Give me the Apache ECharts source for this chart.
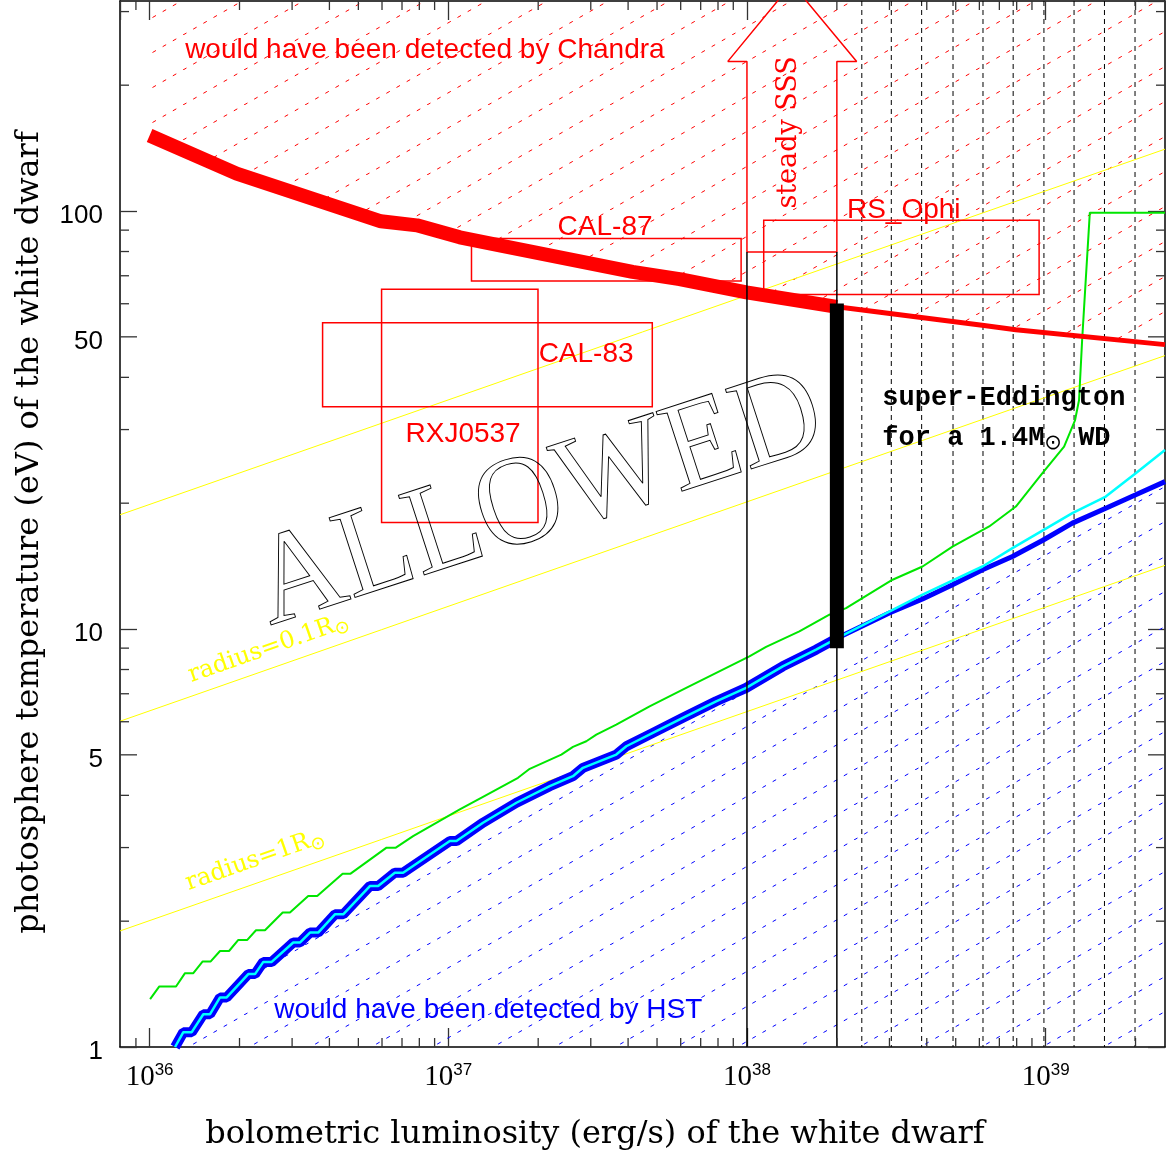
<!DOCTYPE html>
<html><head><meta charset="utf-8">
<script src="https://cdn.jsdelivr.net/npm/echarts@6/dist/echarts.min.js"></script>
<style>html,body{margin:0;padding:0;background:#fff}#c{width:1166px;height:1156px}</style>
</head><body><div id="c"></div>
<script>
// ---------- axis ranges ----------
const xMin = 7.96e35, xMax = 2.51e39, yMin = 1, yMax = 318;

// ---------- Chandra detection limit (red) ----------
const chandraL = [1.00e36, 1.957e36, 5.95e36, 7.85e36, 1.093e37, 1.486e37, 4.14e37, 5.95e37, 9.96e37, 2.0e38, 6.13e38, 7.95e38, 2.51e39];
const chandraT = [151.6, 122.9, 94.5, 92.4, 86.5, 82.8, 71.5, 68.7, 63.9, 59.0, 53.3, 52.0, 47.9];

// ---------- HST detection limit (blue) ----------
const hstL = [1.217e36, 1.297e36, 1.384e36, 1.513e36, 1.594e36, 1.721e36, 1.812e36, 2.140e36, 2.254e36, 2.403e36,
  2.563e36, 3.027e36, 3.186e36, 3.443e36, 3.669e36, 4.173e36, 4.449e36, 5.464e36, 5.824e36, 6.623e36,
  7.061e36, 1.012e37, 1.065e37, 1.307e37, 1.691e37, 2.186e37, 2.615e37, 2.824e37, 3.652e37, 3.945e37,
  4.842e37, 6.099e37, 7.886e37, 9.94e37, 1.318e38, 1.704e38, 2.0e38,
  2.996e38, 3.872e38, 4.878e38, 6.146e38, 7.744e38, 9.756e38, 1.229e39, 1.590e39, 2.003e39, 2.51e39];
const hstT = [1.00, 1.085, 1.085, 1.198, 1.198, 1.314, 1.314, 1.494, 1.494, 1.598,
  1.598, 1.778, 1.778, 1.878, 1.878, 2.077, 2.077, 2.427, 2.427, 2.612,
  2.612, 3.109, 3.109, 3.440, 3.840, 4.207, 4.445, 4.655, 5.008, 5.242,
  5.643, 6.131, 6.716, 7.229, 8.142, 8.924, 9.5,
  10.92, 11.8, 12.76, 13.86, 14.91, 16.28, 17.92, 19.45, 20.94, 22.52];
const hstEddIndex = 36; // point at 2e38

// ---------- cyan track (follows HST curve up to 2e38, then this tail) ----------
const cyanTailL = [3.872e38, 6.146e38, 7.744e38, 1.229e39, 1.590e39, 2.003e39, 2.51e39];
const cyanTailT = [12.08, 14.11, 15.61, 18.93, 20.74, 23.59, 26.81];

// ---------- green track ----------
const greenL = [1.004e36, 1.078e36, 1.226e36, 1.314e36, 1.401e36, 1.506e36, 1.602e36, 1.721e36, 1.845e36, 1.982e36,
  2.124e36, 2.271e36, 2.434e36, 2.790e36, 2.951e36, 3.397e36, 3.641e36, 4.428e36, 4.709e36, 6.213e36,
  6.675e36, 7.625e36, 1.093e37, 1.307e37, 1.712e37, 1.874e37, 2.391e37, 2.615e37, 2.899e37, 3.131e37,
  3.652e37, 4.721e37, 6.260e37, 1.019e38, 1.159e38, 1.498e38, 1.888e38, 2.147e38, 3.073e38, 3.872e38,
  4.878e38, 6.472e38, 7.95e38, 9.756e38, 1.153e39, 1.255e39, 1.294e39, 1.325e39, 1.356e39, 1.406e39, 2.51e39];
const greenT = [1.302, 1.396, 1.396, 1.502, 1.502, 1.602, 1.602, 1.697, 1.697, 1.804,
  1.804, 1.902, 1.902, 2.097, 2.097, 2.297, 2.297, 2.598, 2.598, 2.999,
  2.999, 3.195, 3.701, 3.969, 4.406, 4.630, 5.008, 5.225, 5.389, 5.590,
  5.906, 6.533, 7.229, 8.600, 9.058, 9.869, 10.82, 11.22, 13.12, 14.11,
  15.75, 17.59, 19.63, 23.59, 27.30, 31.62, 35.30, 49.11, 64.67, 99.1, 99.1];

// ---------- constant-radius lines (yellow) ----------
const radiusL = [7.96e35, 2.51e39];
const radius001T = [18.76, 140.6];
const radius01T = [6.017, 45.1];
const radius1T = [1.895, 14.2];

// ---------- source error boxes ----------
const boxName = ['CAL-87', 'CAL-83', 'RXJ0537', 'RS_Ophi'];
const boxLmin = [1.196e37, 3.795e36, 5.98e36, 1.138e38];
const boxLmax = [9.56e37, 4.82e37, 1.997e37, 9.51e38];
const boxTmin = [68.05, 34.02, 17.98, 63.15];
const boxTmax = [85.9, 54.0, 65.0, 95.0];

// ---------- Eddington markers ----------
const eddL = [1e38, 2e38];
const eddTopT = 79.8;
const barL = 2e38, barT = [9.0, 60.1];

// ---------- steady SSS arrow outline ----------
const arrowL = [1e38, 1e38, 8.63e37, 1.414e38, 2.33e38, 2e38, 2e38, 1e38];
const arrowT = [79.8, 228, 228, 350, 228, 228, 79.8, 79.8];

// ---------- dashed vertical lines ----------
const dashL = [2.424e38, 3.043e38, 3.845e38, 4.897e38, 6.170e38, 7.786e38, 9.870e38, 1.245e39, 1.574e39, 1.992e39];

// ---------- tick values ----------
const xMinorTicks = [9e35, 2e36, 3e36, 4e36, 5e36, 6e36, 7e36, 8e36, 9e36, 2e37, 3e37, 4e37, 5e37, 6e37, 7e37, 8e37, 9e37,
  2e38, 3e38, 4e38, 5e38, 6e38, 7e38, 8e38, 9e38, 2e39];
const yMinorTicks = [2, 3, 4, 6, 7, 8, 9, 20, 30, 40, 60, 70, 80, 90, 200, 300];
const yExtraLabels = [5, 50];

// ---------- annotations (anchor in data units) ----------
const noteText = ['would have been detected by Chandra', 'would have been detected by HST', 'CAL-87', 'CAL-83', 'RXJ0537', 'RS_Ophi',
  'steady SSS', 'ALLOWED', 'super-Eddington', '{a|for a 1.4M}{s|⊙}{a| WD}', '{t|radius=0.1R}{s|⊙}', '{t|radius=1R}{s|⊙}'];
const noteL = [8.35e36, 1.361e37, 3.35e37, 2.894e37, 1.121e37, 3.35e38, 1.387e38, 2.02e37, 2.84e38, 2.84e38, 2.50e36, 2.254e36];
const noteT = [242.7, 1.224, 91.2, 45.5, 29.2, 100.5, 154.2, 20.1, 35.7, 28.6, 8.99, 2.80];

// ---------- styles ----------
const SERIF = '"DejaVu Serif", serif';
const SANS = '"Liberation Sans", Arial, sans-serif';
const deg = Math.PI / 180;
const yellowRich = {
  t: {fontFamily: SERIF, fontSize: 24, fill: '#ffff00', lineHeight: 30},
  s: {fontFamily: '"DejaVu Sans"', fontSize: 18, fill: '#ffff00', lineHeight: 16, verticalAlign: 'bottom'}
};
const noteStyle = [
  {font: '28px ' + SANS, fill: '#ff0000'},
  {font: '28px ' + SANS, fill: '#0000ff'},
  {font: '28px ' + SANS, fill: '#ff0000'},
  {font: '28px ' + SANS, fill: '#ff0000'},
  {font: '28px ' + SANS, fill: '#ff0000'},
  {font: '28px ' + SANS, fill: '#ff0000'},
  {font: '27px ' + SERIF, fill: '#ff0000', rot: 90},
  {font: '128px "Liberation Serif", serif', fill: 'none', stroke: '#000', lineWidth: 1, rot: 18, scaleX: 0.93},
  {font: 'bold 27px "Liberation Mono", monospace', fill: '#000', align: 'left'},
  {align: 'left', rich: {
    a: {fontFamily: '"Liberation Mono", monospace', fontWeight: 'bold', fontSize: 27, fill: '#000', lineHeight: 32},
    s: {fontFamily: '"DejaVu Sans"', fontSize: 21, fill: '#000', lineHeight: 16, verticalAlign: 'bottom'}}},
  {rot: 19.3, rich: yellowRich},
  {rot: 19.3, rich: yellowRich}
];

function hatch(color) {
  const W = 61, H = 35;
  const c = document.createElement('canvas');
  c.width = W; c.height = H;
  const g = c.getContext('2d');
  g.strokeStyle = color; g.lineWidth = 1;
  g.setLineDash([4, 7.72]);
  g.beginPath(); g.moveTo(0, H); g.lineTo(W, 0); g.stroke();
  return c;
}
const pts = (Ls, Ts) => Ls.map((l, i) => [l, Ts[i]]);

const chart = echarts.init(document.getElementById('c'), null, {renderer: 'canvas'});

const tickColor = '#333';
function fmtX(v) {
  const lg = Math.log10(v), e = Math.round(lg);
  if (Math.abs(lg - e) > 1e-6) return '';
  return '{b|10}{s|' + e + '}';
}
function fmtY(v) {
  const lg = Math.log10(v), e = Math.round(lg);
  if (Math.abs(lg - e) > 1e-6) return '';
  return String(Math.round(v));
}
const axisLineStyle = {show: true, onZero: false, lineStyle: {color: '#000', width: 1.5}};

const series = [
  // hatched excluded regions
  {type: 'line', name: 'Chandra excluded', data: pts(chandraL, chandraT), symbol: 'none', silent: true, z: 1,
   lineStyle: {width: 0, opacity: 0}, areaStyle: {origin: 'end', opacity: 1, color: {image: hatch('#ff0000'), repeat: 'repeat'}}},
  {type: 'line', name: 'HST excluded', data: pts(hstL, hstT), symbol: 'none', silent: true, z: 1,
   lineStyle: {width: 0, opacity: 0}, areaStyle: {origin: 'start', opacity: 1, color: {image: hatch('#0000ff'), repeat: 'repeat'}}},
  // dashed verticals
  {type: 'custom', name: 'dashes', data: dashL.map(l => [l, yMin]), z: 2, silent: true,
   renderItem: (p, api) => {
     const cs = p.coordSys, x = api.coord([api.value(0), yMin])[0];
     return {type: 'line', shape: {x1: x, y1: cs.y, x2: x, y2: cs.y + cs.height}, style: {stroke: '#000', lineWidth: 1, lineDash: [5, 4]}};
   }},
  // yellow radius lines
  {type: 'line', name: 'R=0.01', data: pts(radiusL, radius001T), symbol: 'none', z: 3, lineStyle: {color: '#ffff00', width: 1}},
  {type: 'line', name: 'R=0.1', data: pts(radiusL, radius01T), symbol: 'none', z: 3, lineStyle: {color: '#ffff00', width: 1}},
  {type: 'line', name: 'R=1', data: pts(radiusL, radius1T), symbol: 'none', z: 3, lineStyle: {color: '#ffff00', width: 1}},
  // boxes
  {type: 'custom', name: 'boxes', z: 4, silent: true,
   data: boxName.map((n, i) => [boxLmin[i], boxTmin[i], boxLmax[i], boxTmax[i]]),
   encode: {x: [0, 2], y: [1, 3]},
   renderItem: (p, api) => {
     const a = api.coord([api.value(0), api.value(1)]), b = api.coord([api.value(2), api.value(3)]);
     return {type: 'rect', shape: {x: Math.min(a[0], b[0]), y: Math.min(a[1], b[1]), width: Math.abs(b[0] - a[0]), height: Math.abs(b[1] - a[1])},
             style: {fill: 'none', stroke: '#ff0000', lineWidth: 1.5}};
   }},
  // green track
  {type: 'line', name: 'green', data: pts(greenL, greenT), symbol: 'none', z: 5, lineStyle: {color: '#00e600', width: 2}},
  // blue HST limit
  {type: 'line', name: 'HST thick', data: pts(hstL.slice(0, hstEddIndex + 1), hstT.slice(0, hstEddIndex + 1)), symbol: 'none', z: 6,
   lineStyle: {color: '#0000ff', width: 10}},
  {type: 'line', name: 'HST thin', data: pts(hstL.slice(hstEddIndex), hstT.slice(hstEddIndex)), symbol: 'none', z: 6,
   lineStyle: {color: '#0000ff', width: 5}},
  // cyan
  {type: 'line', name: 'cyan', data: pts(hstL.slice(0, hstEddIndex + 1).concat(cyanTailL), hstT.slice(0, hstEddIndex + 1).concat(cyanTailT)),
   symbol: 'none', z: 7, lineStyle: {color: '#00ffff', width: 2.5}},
  // red Chandra limit
  {type: 'line', name: 'Chandra thick', data: pts(chandraL.slice(0, 10), chandraT.slice(0, 10)), symbol: 'none', z: 8,
   lineStyle: {color: '#ff0000', width: 14}},
  {type: 'line', name: 'Chandra thin', data: pts(chandraL.slice(9), chandraT.slice(9)), symbol: 'none', z: 8,
   lineStyle: {color: '#ff0000', width: 5}},
  // arrow
  {type: 'line', name: 'arrow', data: pts(arrowL, arrowT), symbol: 'none', z: 8, lineStyle: {color: '#ff0000', width: 1.5}},
  // Eddington lines
  {type: 'line', name: 'edd1', data: [[eddL[0], yMin], [eddL[0], eddTopT]], symbol: 'none', z: 9, lineStyle: {color: '#000', width: 1.5}},
  {type: 'line', name: 'edd2', data: [[eddL[1], yMin], [eddL[1], eddTopT]], symbol: 'none', z: 9, lineStyle: {color: '#000', width: 1.5}},
  {type: 'line', name: 'bar', data: [[barL, barT[0]], [barL, barT[1]]], symbol: 'none', z: 9, lineStyle: {color: '#000', width: 14, cap: 'butt'}},
  // minor x ticks
  {type: 'custom', name: 'xminor', data: xMinorTicks.map(v => [v, yMin]), z: 10, silent: true,
   renderItem: (p, api) => {
     const cs = p.coordSys, x = api.coord([api.value(0), yMin])[0], st = {stroke: tickColor, lineWidth: 1.3};
     return {type: 'group', children: [
       {type: 'line', shape: {x1: x, y1: cs.y + cs.height, x2: x, y2: cs.y + cs.height - 9}, style: st},
       {type: 'line', shape: {x1: x, y1: cs.y, x2: x, y2: cs.y + 9}, style: st}]};
   }},
  // minor y ticks
  {type: 'custom', name: 'yminor', data: yMinorTicks.map(v => [xMin, v]), z: 10, silent: true,
   renderItem: (p, api) => {
     const cs = p.coordSys, y = api.coord([xMin, api.value(1)])[1], st = {stroke: tickColor, lineWidth: 1.3};
     return {type: 'group', children: [
       {type: 'line', shape: {x1: cs.x, y1: y, x2: cs.x + 9, y2: y}, style: st},
       {type: 'line', shape: {x1: cs.x + cs.width, y1: y, x2: cs.x + cs.width - 9, y2: y}, style: st}]};
   }},
  // labelled extra y ticks (5, 50)
  {type: 'custom', name: 'ylabels', data: yExtraLabels.map(v => [xMin, v]), z: 10, silent: true,
   renderItem: (p, api) => {
     const cs = p.coordSys, v = api.value(1), y = api.coord([xMin, v])[1], st = {stroke: tickColor, lineWidth: 1.3};
     return {type: 'group', children: [
       {type: 'line', shape: {x1: cs.x, y1: y, x2: cs.x + 17, y2: y}, style: st},
       {type: 'line', shape: {x1: cs.x + cs.width, y1: y, x2: cs.x + cs.width - 17, y2: y}, style: st},
       {type: 'text', x: cs.x - 17, y: y + 4.5, style: {text: String(v), font: '26px ' + SANS, fill: '#000', align: 'right', verticalAlign: 'middle'}}]};
   }},
  // annotations
  {type: 'custom', name: 'notes', data: noteText.map((t, i) => [noteL[i], noteT[i]]), z: 12, silent: true,
   renderItem: (p, api) => {
     const i = p.dataIndex, s = noteStyle[i], c = api.coord([api.value(0), api.value(1)]);
     const style = {text: noteText[i], align: s.align || 'center', verticalAlign: 'middle'};
     ['font', 'fill', 'stroke', 'lineWidth', 'rich'].forEach(k => { if (s[k] !== undefined) style[k] = s[k]; });
     return {type: 'text', x: c[0], y: c[1], rotation: (s.rot || 0) * deg, scaleX: s.scaleX || 1, style: style};
   }}
];

const option = {
  animation: false,
  backgroundColor: '#ffffff',
  grid: {left: 120, right: 1, top: 1, bottom: 108, containLabel: false},
  xAxis: [
    {type: 'log', logBase: 10, min: xMin, max: xMax, position: 'bottom',
     name: 'bolometric luminosity (erg/s) of the white dwarf', nameLocation: 'middle', nameGap: 72,
     nameTextStyle: {fontFamily: SERIF, fontSize: 32, color: '#000', padding: [0, 95, 0, 0]},
     axisLine: axisLineStyle,
     axisTick: {show: true, inside: true, length: 19, lineStyle: {color: tickColor, width: 1.3}},
     axisLabel: {show: true, margin: 15, formatter: fmtX, showMinLabel: false, showMaxLabel: false,
       rich: {b: {fontFamily: '"Liberation Serif", serif', fontSize: 29, color: '#000', lineHeight: 30},
              s: {fontFamily: SANS, fontSize: 17, color: '#000', lineHeight: 11, verticalAlign: 'top'}}},
     splitLine: {show: false}, minorTick: {show: false}, minorSplitLine: {show: false}},
    {type: 'log', logBase: 10, min: xMin, max: xMax, position: 'top',
     axisLine: axisLineStyle,
     axisTick: {show: true, inside: true, length: 19, lineStyle: {color: tickColor, width: 1.3}},
     axisLabel: {show: false}, splitLine: {show: false}}
  ],
  yAxis: [
    {type: 'log', logBase: 10, min: yMin, max: yMax, position: 'left',
     name: 'photosphere temperature (eV) of the white dwarf', nameLocation: 'middle', nameGap: 74,
     nameTextStyle: {fontFamily: SERIF, fontSize: 32, color: '#000', padding: [0, 17, 0, 0]},
     axisLine: axisLineStyle,
     axisTick: {show: true, inside: true, length: 17, lineStyle: {color: tickColor, width: 1.3}},
     axisLabel: {show: true, margin: 17, formatter: fmtY, showMinLabel: true, showMaxLabel: false,
       fontFamily: SANS, fontSize: 26, color: '#000', verticalAlign: 'top', lineHeight: 9},
     splitLine: {show: false}},
    {type: 'log', logBase: 10, min: yMin, max: yMax, position: 'right',
     axisLine: axisLineStyle,
     axisTick: {show: true, inside: true, length: 17, lineStyle: {color: tickColor, width: 1.3}},
     axisLabel: {show: false}, splitLine: {show: false}}
  ],
  series: series
};
chart.setOption(option);
</script>
</body></html>
